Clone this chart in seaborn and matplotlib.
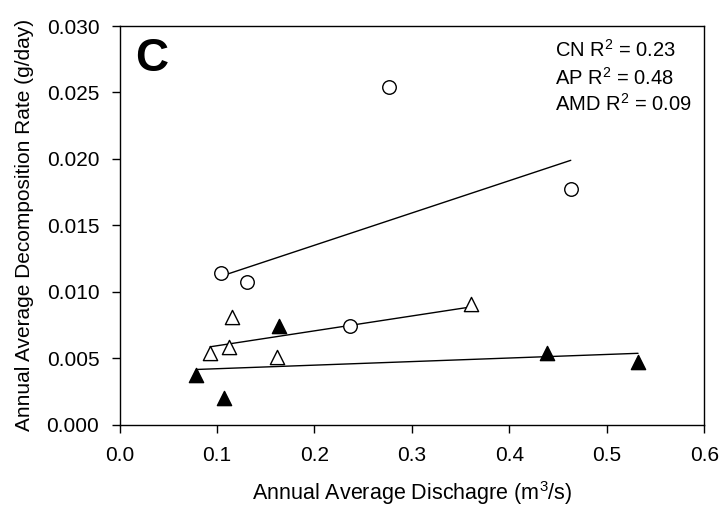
import matplotlib
matplotlib.use("Agg")
import matplotlib.pyplot as plt
import seaborn as sns
import pandas as pd
from matplotlib.ticker import FormatStrFormatter

sns.set_theme(style="ticks")
plt.rcParams['font.family'] = ['Liberation Sans', 'DejaVu Sans']
plt.rcParams['mathtext.fontset'] = 'custom'
plt.rcParams['mathtext.rm'] = 'Liberation Sans'
plt.rcParams['mathtext.it'] = 'Liberation Sans:italic'
plt.rcParams['mathtext.bf'] = 'Liberation Sans:bold'

# Data
cn_x = [0.104, 0.131, 0.277, 0.463, 0.236]
cn_y = [0.0114, 0.0107, 0.0254, 0.0177, 0.0074]
ap_x = [0.093, 0.1125, 0.1155, 0.162, 0.361]
ap_y = [0.0054, 0.0058, 0.0081, 0.0051, 0.0091]
amd_x = [0.079, 0.107, 0.1636, 0.439, 0.532]
amd_y = [0.0037, 0.0020, 0.0074, 0.0054, 0.0047]

r2_labels = ["CN R$^2$ = 0.23", "AP R$^2$ = 0.48", "AMD R$^2$ = 0.09"]
x_ticks = [0.0, 0.1, 0.2, 0.3, 0.4, 0.5, 0.6]
y_ticks = [0.000, 0.005, 0.010, 0.015, 0.020, 0.025, 0.030]

cn = pd.DataFrame({"x": cn_x, "y": cn_y})
ap = pd.DataFrame({"x": ap_x, "y": ap_y})
amd = pd.DataFrame({"x": amd_x, "y": amd_y})

W, H = 725, 512
L, R, T, B = 119.5, 704.3, 26, 424.5
fig = plt.figure(figsize=(W / 100, H / 100), dpi=100)
ax = fig.add_axes([L / W, 1 - B / H, (R - L) / W, (B - T) / H])

line_kws = dict(color="black", lw=1.0, zorder=2)
for df in (cn, ap, amd):
    sns.regplot(data=df, x="x", y="y", scatter=False, ci=None, truncate=True,
                line_kws=line_kws, ax=ax)

sns.scatterplot(data=cn, x="x", y="y", marker="o", s=95, facecolor="white",
                edgecolor="black", linewidth=1.0, ax=ax, zorder=3)
sns.scatterplot(data=ap, x="x", y="y", marker="^", s=105, facecolor="white",
                edgecolor="black", linewidth=1.0, ax=ax, zorder=3)
sns.scatterplot(data=amd, x="x", y="y", marker="^", s=105, facecolor="black",
                edgecolor="black", linewidth=1.0, ax=ax, zorder=3)

ax.set_xlim(0.0, 0.6)
ax.set_ylim(0.0, 0.030)
ax.set_xticks(x_ticks)
ax.set_yticks(y_ticks)
ax.xaxis.set_major_formatter(FormatStrFormatter('%.1f'))
ax.yaxis.set_major_formatter(FormatStrFormatter('%.3f'))
ax.tick_params(axis='both', direction='out', length=5.5, width=1, labelsize=15,
               color='black', labelcolor='black')
ax.tick_params(axis='x', pad=10)
ax.tick_params(axis='y', pad=9)
for sp in ax.spines.values():
    sp.set_visible(True)
    sp.set_color('black')
    sp.set_linewidth(1.0)

ax.set_xlabel("Annual Average Dischagre (m$^3$/s)", fontsize=15.5, labelpad=10, color='black')
ax.set_ylabel("Annual Average Decomposition Rate (g/day)", fontsize=15, labelpad=9, color='black')

ax.text(0.027, 0.972, "C", transform=ax.transAxes, fontsize=33, fontweight='bold',
        va='top', ha='left', color='black')
for lab, yy in zip(r2_labels, [0.940, 0.869, 0.804]):
    ax.text(0.745, yy, lab, transform=ax.transAxes, fontsize=14.5,
            va='center', ha='left', color='black')

fig.savefig("out.png", dpi=100)
